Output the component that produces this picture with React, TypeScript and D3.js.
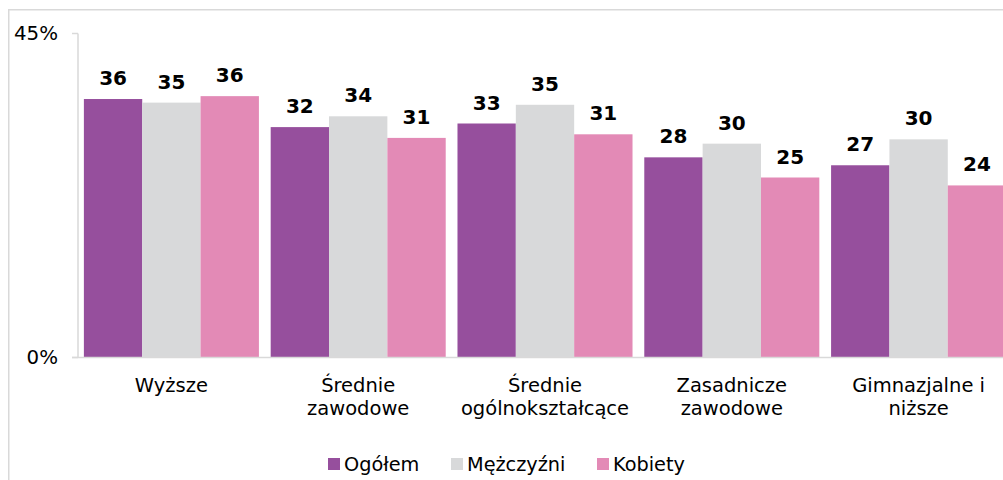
import React from "react";
import * as d3 from "d3";

const categories = [
  "Wyższe",
  "Średnie zawodowe",
  "Średnie ogólnokształcące",
  "Zasadnicze zawodowe",
  "Gimnazjalne i niższe",
];
const categoryLines = [
  ["Wyższe"],
  ["Średnie", "zawodowe"],
  ["Średnie", "ogólnokształcące"],
  ["Zasadnicze", "zawodowe"],
  ["Gimnazjalne i", "niższe"],
];
const seriesNames = ["Ogółem", "Mężczyźni", "Kobiety"];
const ogolem = [35.9, 32.0, 32.5, 27.8, 26.7];
const mezczyzni = [35.4, 33.5, 35.1, 29.7, 30.3];
const kobiety = [36.3, 30.5, 31.0, 25.0, 23.9];
const labelsOgolem = [36, 32, 33, 28, 27];
const labelsMezczyzni = [35, 34, 35, 30, 30];
const labelsKobiety = [36, 31, 31, 25, 24];
const yTicks = [0, 45];
const colors = ["#964f9d", "#d8d9da", "#e38ab6"];

const W = 1003;
const H = 480;
const FONT = "Verdana, 'DejaVu Sans', sans-serif";

export default function App() {
  const values = [ogolem, mezczyzni, kobiety];
  const labels = [labelsOgolem, labelsMezczyzni, labelsKobiety];
  const x = d3
    .scaleBand<string>()
    .domain(categories)
    .range([78, 1012])
    .paddingInner(0.063)
    .paddingOuter(0.0315);
  const xs = d3
    .scaleBand<string>()
    .domain(seriesNames)
    .range([0, x.bandwidth()]);
  const y = d3.scaleLinear().domain([0, 45]).range([357.5, 33.5]);
  const axisColor = "#d9d9d9";
  const legendX = [328, 451, 597];

  return (
    <svg
      width={W}
      height={H}
      style={{ position: "absolute", left: 0, top: 0, display: "block" }}
      fontFamily={FONT}
    >
      <rect x={0} y={0} width={W} height={H} fill="#fff" />
      <rect
        x={8.75}
        y={9.75}
        width={1100}
        height={600}
        fill="none"
        stroke={axisColor}
        strokeWidth={1.5}
      />
      {categories.map((c, ci) =>
        seriesNames.map((s, si) => {
          const v = values[si][ci];
          const bx = (x(c) ?? 0) + (xs(s) ?? 0);
          return (
            <g key={c + s}>
              <rect
                x={bx}
                y={y(v)}
                width={xs.bandwidth()}
                height={y(0) - y(v)}
                fill={colors[si]}
              />
              <text
                x={bx + xs.bandwidth() / 2}
                y={y(v) - 14}
                textAnchor="middle"
                fontSize={20}
                fontWeight="bold"
                fill="#000"
              >
                {labels[si][ci]}
              </text>
            </g>
          );
        })
      )}
      <line x1={78} x2={78} y1={y(45)} y2={y(0)} stroke={axisColor} strokeWidth={1.5} />
      <line x1={72} x2={W} y1={y(0)} y2={y(0)} stroke={axisColor} strokeWidth={1.5} />
      {yTicks.map((t) => (
        <g key={t}>
          <line x1={72} x2={78} y1={y(t)} y2={y(t)} stroke={axisColor} strokeWidth={1.5} />
          <text
            x={58}
            y={y(t)}
            dy="0.35em"
            textAnchor="end"
            fontSize={19.8}
            fill="#000"
          >
            {t}%
          </text>
        </g>
      ))}
      {categories.map((c, ci) => (
        <text
          key={c}
          x={(x(c) ?? 0) + x.bandwidth() / 2}
          y={392}
          textAnchor="middle"
          fontSize={19.5}
          fill="#000"
        >
          {categoryLines[ci].map((ln, li) => (
            <tspan key={li} x={(x(c) ?? 0) + x.bandwidth() / 2} dy={li === 0 ? 0 : 23}>
              {ln}
            </tspan>
          ))}
        </text>
      ))}
      {seriesNames.map((s, si) => (
        <g key={s}>
          <rect x={legendX[si]} y={458} width={12} height={12} fill={colors[si]} />
          <text x={legendX[si] + 16} y={464} dy="0.35em" fontSize={19.3} fill="#000">
            {s}
          </text>
        </g>
      ))}
    </svg>
  );
}
